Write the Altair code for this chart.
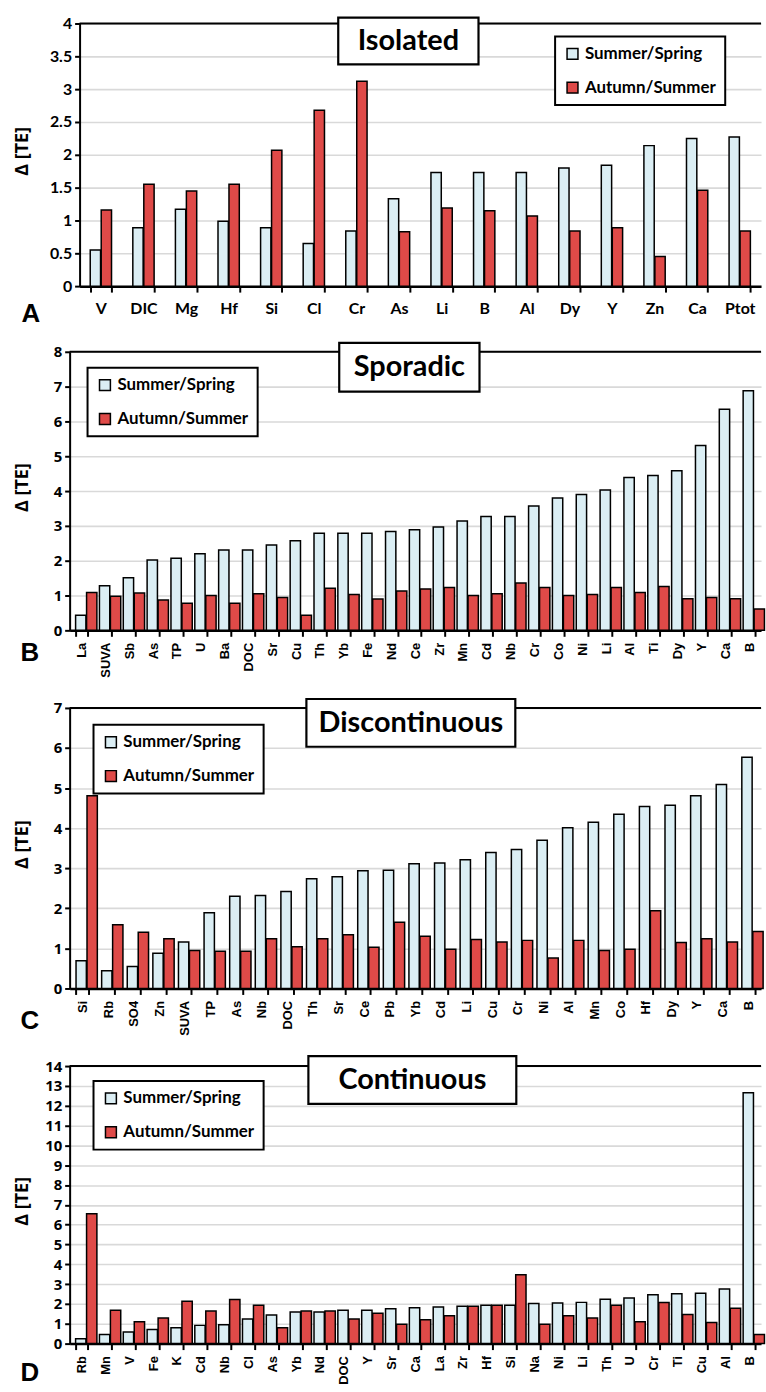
import altair as alt
import pandas as pd

SERIES = ["Summer/Spring", "Autumn/Summer"]
COLORS = ["#dbeef4", "#df4a48"]

# Panel A - Isolated
cats_a = ["V", "DIC", "Mg", "Hf", "Si", "Cl", "Cr", "As", "Li", "B", "Al", "Dy", "Y", "Zn", "Ca", "Ptot"]
ss_a = [0.55, 0.89, 1.17, 0.99, 0.89, 0.65, 0.84, 1.33, 1.73, 1.73, 1.73, 1.80, 1.84, 2.14, 2.25, 2.27]
au_a = [1.16, 1.55, 1.45, 1.55, 2.07, 2.68, 3.12, 0.83, 1.19, 1.15, 1.07, 0.84, 0.89, 0.45, 1.46, 0.84]

# Panel B - Sporadic
cats_b = ["La", "SUVA", "Sb", "As", "TP", "U", "Ba", "DOC", "Sr", "Cu", "Th", "Yb", "Fe", "Nd", "Ce", "Zr",
          "Mn", "Cd", "Nb", "Cr", "Co", "Ni", "Li", "Al", "Ti", "Dy", "Y", "Ca", "B"]
ss_b = [0.43, 1.28, 1.51, 2.02, 2.07, 2.20, 2.31, 2.31, 2.45, 2.57, 2.79, 2.79, 2.79, 2.84, 2.89, 2.97,
        3.14, 3.27, 3.27, 3.57, 3.80, 3.90, 4.03, 4.39, 4.45, 4.58, 5.31, 6.35, 6.88]
au_b = [1.09, 0.98, 1.07, 0.87, 0.78, 1.00, 0.78, 1.05, 0.94, 0.43, 1.21, 1.03, 0.90, 1.13, 1.19, 1.23,
        1.00, 1.05, 1.36, 1.23, 1.00, 1.03, 1.23, 1.09, 1.26, 0.91, 0.94, 0.91, 0.61]

# Panel C - Discontinuous
cats_c = ["Si", "Rb", "SO4", "Zn", "SUVA", "TP", "As", "Nb", "DOC", "Th", "Sr", "Ce", "Pb", "Yb", "Cd",
          "Li", "Cu", "Cr", "Ni", "Al", "Mn", "Co", "Hf", "Dy", "Y", "Ca", "B"]
ss_c = [0.69, 0.44, 0.55, 0.88, 1.16, 1.89, 2.30, 2.32, 2.42, 2.74, 2.79, 2.94, 2.95, 3.11, 3.13,
        3.21, 3.39, 3.47, 3.70, 4.01, 4.15, 4.35, 4.54, 4.57, 4.81, 5.09, 5.77]
au_c = [4.81, 1.59, 1.40, 1.24, 0.95, 0.93, 0.93, 1.24, 1.04, 1.24, 1.34, 1.03, 1.65, 1.30, 0.98,
        1.22, 1.16, 1.20, 0.76, 1.20, 0.95, 0.98, 1.94, 1.15, 1.24, 1.16, 1.42]

# Panel D - Continuous
cats_d = ["Rb", "Mn", "V", "Fe", "K", "Cd", "Nb", "Cl", "As", "Yb", "Nd", "DOC", "Y", "Sr", "Ca", "La",
          "Zr", "Hf", "Si", "Na", "Ni", "Li", "Th", "U", "Cr", "Ti", "Cu", "Al", "B"]
ss_d = [0.25, 0.46, 0.58, 0.71, 0.80, 0.92, 0.95, 1.24, 1.44, 1.59, 1.59, 1.68, 1.68, 1.76, 1.81, 1.85,
        1.88, 1.93, 1.93, 2.02, 2.05, 2.08, 2.24, 2.30, 2.46, 2.51, 2.54, 2.76, 12.65]
au_d = [6.55, 1.68, 1.10, 1.29, 2.14, 1.64, 2.22, 1.93, 0.80, 1.64, 1.64, 1.24, 1.53, 0.98, 1.20, 1.41,
        1.88, 1.93, 3.47, 0.98, 1.41, 1.29, 1.93, 1.10, 2.07, 1.47, 1.07, 1.78, 0.46]

W = 695


def panel(cats, ss, au, yvals, plot_h, top, left, title, tbox, leg, letter, letter_xy, ytitle_x,
          xlabel_font, xlabel_size, xlabel_angle, xlabel_pad, ylabel_font, ylabel_size):
    """top/left: offset of the plot area inside the panel cell (pixels)."""
    n = len(cats)
    H = plot_h + top
    df = pd.DataFrame({
        "cat": cats + cats,
        "series": [SERIES[0]] * n + [SERIES[1]] * n,
        "val": ss + au,
    })
    bars = alt.Chart(df).mark_bar(stroke="black", strokeWidth=1.5).encode(
        x=alt.X("cat:N", sort=cats,
                scale=alt.Scale(paddingInner=0.5, paddingOuter=0.25, range=[left, W]),
                axis=alt.Axis(title=None, grid=False, labelAngle=xlabel_angle, tickBand="extent",
                              domainColor="black", domainWidth=2.5, tickColor="black", tickWidth=2,
                              tickSize=6, labelFont=xlabel_font, labelFontSize=xlabel_size,
                              labelFontWeight="bold", labelColor="black", labelPadding=xlabel_pad)),
        xOffset=alt.XOffset("series:N", sort=SERIES, scale=alt.Scale(paddingInner=0.06)),
        y=alt.Y("val:Q", scale=alt.Scale(domain=[yvals[0], yvals[-1]], nice=False, range=[H, top]),
                axis=alt.Axis(values=yvals, labelExpr="'' + datum.value", title="Δ [TE]",
                              offset=-left,
                              titleFont="Open Sans", titleFontSize=18, titleFontWeight="bold",
                              titleColor="black", titleX=ytitle_x, titleY=top + plot_h / 2 - 4,
                              titleAngle=270, titleAlign="center", titleBaseline="middle",
                              domainColor="black", domainWidth=2, tickColor="black", tickWidth=2,
                              tickSize=5, labelFont=ylabel_font, labelFontSize=ylabel_size,
                              labelFontWeight="bold", labelColor="black", labelPadding=3,
                              grid=True, gridColor="#d9d9d9", gridWidth=1.6)),
        color=alt.Color("series:N", sort=SERIES,
                        scale=alt.Scale(domain=SERIES, range=COLORS),
                        legend=alt.Legend(title=None, orient="none", legendX=left + leg[0],
                                          legendY=top + leg[1],
                                          strokeColor="black", fillColor="white",
                                          padding=9, symbolType="square", symbolSize=120,
                                          symbolStrokeColor="black", symbolStrokeWidth=1.5,
                                          labelFont="Lato", labelFontSize=17, labelFontWeight="bold",
                                          labelColor="black", rowPadding=16, labelOffset=4)),
    )
    one = pd.DataFrame({"t": [title]})
    toprule = alt.Chart(one).mark_rule(color="black", strokeWidth=2).encode(
        x=alt.value(left), x2=alt.value(W), y=alt.value(top))
    box = alt.Chart(one).mark_rect(fill="white", stroke="black", strokeWidth=2.2).encode(
        x=alt.value(left + tbox[0]), x2=alt.value(left + tbox[1]),
        y=alt.value(top + tbox[2]), y2=alt.value(top + tbox[3]))
    ttext = alt.Chart(one).mark_text(font="Lato", fontSize=29, fontWeight="bold", color="black",
                                     align="center", baseline="middle").encode(
        text="t:N", x=alt.value(left + (tbox[0] + tbox[1]) / 2),
        y=alt.value(top + (tbox[2] + tbox[3]) / 2))
    lt = alt.Chart(pd.DataFrame({"l": [letter]})).mark_text(
        font="Liberation Sans", fontSize=26, fontWeight="bold", color="black",
        align="center", baseline="middle").encode(
        text="l:N", x=alt.value(left + letter_xy[0]), y=alt.value(top + letter_xy[1]))
    return alt.layer(bars, toprule, box, ttext, lt).properties(width=W, height=H)


yA = [0, 0.5, 1, 1.5, 2, 2.5, 3, 3.5, 4]
yB = list(range(0, 9))
yC = list(range(0, 8))
yD = list(range(0, 15))

pA = panel(cats_a, ss_a, au_a, yA, 264, 0, 10, "Isolated", (260, 401, -6, 41), (478, 13), "A",
           (-49, 292), -57.5, "Lato", 16, 0, 9, "Lato", 16)
pB = panel(cats_b, ss_b, au_b, yB, 280, 0, 0, "Sporadic", (271, 412, -9, 40), (18, 16), "B",
           (-40, 303), -47, "Liberation Sans", 13, 270, 6, "Open Sans", 15)
pC = panel(cats_c, ss_c, au_c, yC, 282, 12, 0, "Discontinuous", (238, 448, -9, 39), (24, 17), "C",
           (-40, 315), -47, "Liberation Sans", 13, 270, 6, "Open Sans", 15)
pD = panel(cats_d, ss_d, au_d, yD, 279, 12, 0, "Continuous", (240, 449, -10, 38), (24, 15), "D",
           (-40, 309), -47, "Liberation Sans", 13, 270, 6, "Open Sans", 15)

chart = alt.vconcat(pA, pB, pC, pD, spacing=66, bounds="flush").resolve_scale(
    color="independent").resolve_legend(color="independent").properties(
    padding={"left": 13, "top": 12, "right": 0, "bottom": 0}).configure_view(
    stroke=None).configure_legend(strokeWidth=2)

chart.save("out.html", embed_options={"renderer": "svg", "actions": False})
